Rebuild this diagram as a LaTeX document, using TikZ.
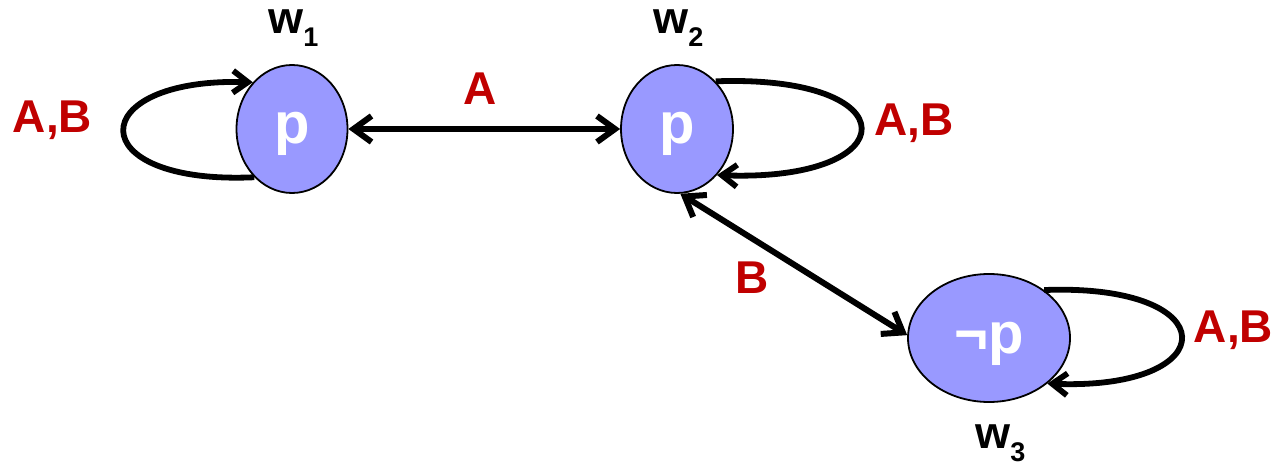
\documentclass[tikz,border=0pt]{standalone}
\usepackage{fontspec}
\setmainfont{Liberation Sans}
\usetikzlibrary{arrows.meta,shapes.geometric}
\definecolor{nodefill}{RGB}{153,153,255}
\definecolor{labred}{RGB}{192,0,0}
\newcommand{\wsub}[1]{w\raisebox{-6.5pt}{\fontsize{13.5}{13.5}\selectfont #1}}
\begin{document}
\begin{tikzpicture}[x=0.5pt,y=-0.5pt,
 world/.style={ellipse, draw=black, line width=0.9pt, fill=nodefill, inner sep=0pt, text=white,
   font=\fontsize{29}{29}\selectfont\bfseries, text height=19pt, text depth=4pt},
 rel/.style={line width=3pt, {Straight Barb[length=9pt,width=13pt]}-{Straight Barb[length=9pt,width=13pt]}},
 loopedge/.style={line width=2.9pt, -{Straight Barb[length=7.5pt,width=11pt]}},
 lab/.style={text=labred, font=\fontsize{23}{23}\selectfont\bfseries, inner sep=0pt, anchor=base},
 wname/.style={font=\fontsize{22.5}{22.5}\selectfont\bfseries, inner sep=0pt, anchor=base west}]
\useasboundingbox (0,0) rectangle (1277,464);
\node[world, minimum width=55.5pt, minimum height=64pt] (w1) at (292,129) {p};
\node[world, minimum width=56pt, minimum height=64pt] (w2) at (677,129) {p};
\node[world, minimum width=81pt, minimum height=64pt] (w3) at (989,338) {¬p};
\draw[loopedge] (w1.232) .. controls +(-175,8) and +(-170,-5) .. (w1.130);
\draw[loopedge] (w2.51) .. controls +(195,-7) and +(190,7) .. (w2.311);
\draw[loopedge] (w3.41) .. controls +(183,-7) and +(178,7) .. (w3.322);
\draw[rel] (w1.east) -- (w2.west);
\draw[rel] (w2.-87) -- (w3.178);
\node[lab] (la) at (480,105) {A};
\node[lab] (lb) at (752,293) {B};
\node[lab] (l1) at (52.5,133) {A,B};
\node[lab] (l2) at (914,136) {A,B};
\node[lab] (l3) at (1233.5,343) {A,B};
\node[wname] (n1) at (268,34) {\wsub{1}};
\node[wname] (n2) at (653,34) {\wsub{2}};
\node[wname] (n3) at (975,448) {\wsub{3}};
\end{tikzpicture}
\end{document}
